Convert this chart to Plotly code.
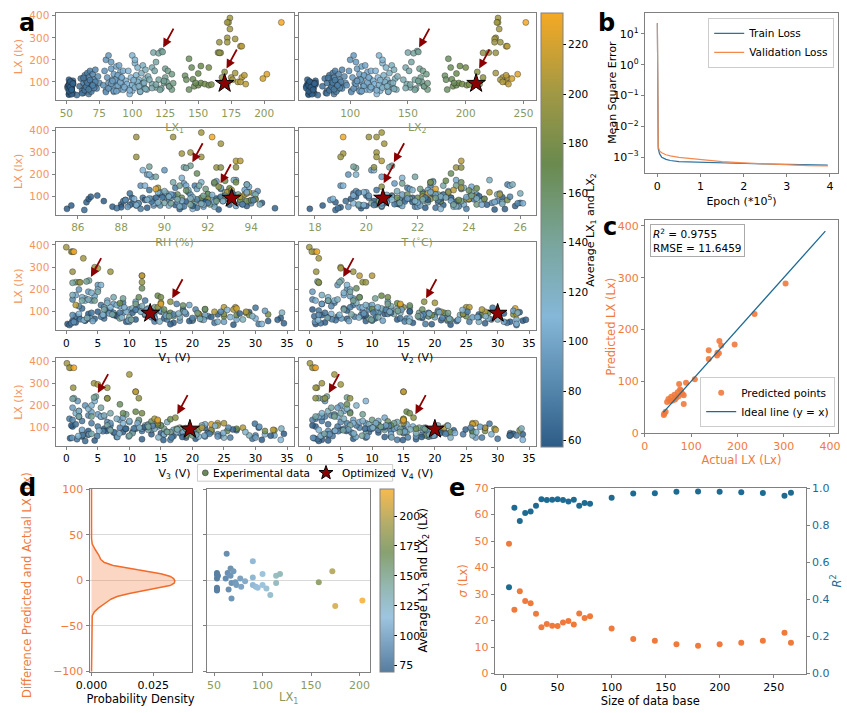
import numpy as np
import plotly.graph_objects as go

# ---------------- Panel a data (experimental records) ----------------
lx1 = [52,53,54,52,53,55,51,54,53,52,55,54,53,52,54,53,55,52,53,54,51,55,
       58,60,61,62,63,64,64,65,66,66,67,67,68,68,69,69,70,70,71,72,72,73,74,75,63,67,
       78,79,80,80,81,82,82,83,84,85,86,86,87,88,88,89,90,90,91,92,92,93,94,95,84,89,
       96,97,98,99,100,100,101,102,103,104,104,105,106,107,108,108,109,110,110,111,112,98,102,106,
       122,116,120,123,118,115,117,125,127,130,125,120,128,130,122,115,118,124,126,113,
       143,145,152,158,140,141,146,150,143,147,150,152,155,158,148,160,
       174,173,172,174,172,178,166,172,182,183,165,167,166,170,168,172,175,178,180,183,185,186,176,182,
       213,202,199,
       53,54,52,55,53,54,52,53,55,54,62,64,65,66,68,69,70,71,72,63,67,70,
       80,82,84,86,87,89,91,93,94,85,88,92,98,100,102,104,106,108,110,101,105,109,115,118,121,124,128,131]
lx2 = [64,66,68,63,65,70,62,67,66,64,69,68,65,63,67,66,70,64,65,68,62,69,
       72,76,78,80,80,82,83,84,85,85,86,86,87,88,88,89,90,90,91,92,93,93,95,96,79,86,
       97,99,100,101,102,103,104,105,106,107,108,109,110,110,111,112,113,114,115,116,117,118,119,120,105,112,
       121,122,123,124,125,126,127,128,129,130,131,132,133,134,135,136,137,138,139,140,141,123,128,133,
       158,150,155,159,153,148,151,160,163,166,161,156,164,167,157,149,152,160,162,146,
       185,187,195,200,182,183,188,192,184,189,192,194,197,201,190,203,
       228,228,227,229,226,225,230,225,235,236,220,226,215,210,215,212,232,226,235,236,235,237,230,232,
       252,245,240,
       66,68,64,70,65,67,64,66,69,68,80,82,84,85,87,88,90,91,92,81,86,89,
       101,103,105,108,109,112,115,117,118,106,110,116,123,125,128,130,133,135,138,126,132,137,148,152,156,159,164,167]
rh = [85.5,85.7,86.4,86.5,86.6,86.9,87.2,87.6,88.0,88.2,88.5,88.8,89.2,89.8,90.5,91.0,91.8,92.5,93.0,93.8,94.5,95.1,
      86.3,88.1,88.4,88.7,89.0,89.3,89.6,89.9,90.2,90.5,90.8,91.1,91.4,91.7,92.0,92.3,92.6,92.9,93.2,93.5,93.8,94.0,94.3,90.0,91.5,88.9,
      88.2,88.9,89.2,89.5,89.8,90.0,90.3,90.6,90.9,91.2,91.5,91.8,92.1,92.4,92.7,93.0,93.3,93.6,93.9,94.2,90.1,91.0,91.9,92.8,89.4,93.7,
      88.6,89.1,89.5,89.7,89.0,90.2,90.5,90.8,91.1,91.4,91.7,92.0,92.3,92.6,92.9,93.2,93.5,93.8,94.1,94.4,90.0,91.3,89.3,92.2,
      91.2,90.9,91.0,89.3,89.6,90.4,91.6,92.3,90.7,91.9,92.8,93.4,93.9,92.1,90.3,89.4,91.4,92.6,93.6,94.2,
      91.5,92.3,92.8,93.3,91.0,90.6,92.0,93.0,89.8,93.8,94.0,91.7,92.5,93.5,90.8,94.2,
      91.7,90.4,88.7,92.6,91.2,90.8,88.7,91.7,93.3,93.5,93.3,92.4,92.6,92.5,93.0,92.0,93.9,89.7,93.5,92.9,93.1,91.3,93.7,92.7,
      92.2,89.6,93.8,
      88.0,88.5,89.1,89.6,90.2,90.7,91.3,91.9,92.4,93.0,87.8,88.4,89.4,89.9,90.4,90.9,91.5,92.0,92.6,93.1,93.6,94.1,
      88.3,88.8,89.3,89.8,90.3,90.8,91.3,91.8,92.3,92.8,93.3,93.8,88.7,89.2,89.7,90.2,90.7,91.2,91.7,92.2,92.7,93.2,
      90.0,90.6,91.2,91.8,92.4,93.0]
temp = [17.8,18.3,18.8,19.4,19.6,20.0,20.3,20.6,21.3,21.5,21.8,22.0,22.3,22.6,23.0,23.5,24.0,25.0,25.3,25.8,26.0,19.8,
        18.8,19.2,19.5,19.8,20.1,20.4,20.7,21.0,21.3,21.6,21.9,22.2,22.5,22.8,23.1,23.4,23.7,24.0,24.3,25.1,25.5,25.9,19.6,20.9,22.7,23.9,
        18.6,19.0,19.3,19.7,20.0,20.2,20.5,20.8,21.1,21.4,21.7,22.0,22.3,22.6,22.9,23.2,23.5,23.8,24.1,24.6,25.2,25.6,26.1,19.5,20.6,22.4,
        18.7,19.1,19.5,19.9,20.3,20.6,21.0,21.4,21.8,22.2,22.6,23.0,23.4,23.8,24.2,24.8,25.3,25.7,26.0,19.7,21.2,22.9,19.6,24.5,
        21.0,20.9,19.6,19.5,21.9,22.5,23.0,21.4,23.5,22.1,24.1,22.8,23.7,24.3,20.2,21.7,22.4,23.3,24.0,25.1,
        23.3,23.7,23.1,22.5,24.0,21.6,22.2,24.3,20.4,22.9,23.6,21.2,24.6,25.5,22.0,23.9,
        20.6,20.4,20.1,20.7,20.4,19.1,19.0,20.4,20.6,23.7,20.3,23.5,23.7,20.6,23.2,22.5,24.8,23.7,24.2,22.6,23.4,24.0,25.2,22.2,
        19.1,22.7,22.4,
        19.0,21.2,22.4,23.3,24.4,25.4,20.0,21.8,22.9,24.7,18.9,20.3,21.5,22.3,23.0,23.6,24.2,24.9,25.6,19.7,21.1,22.8,
        19.3,20.6,21.6,22.1,22.7,23.3,23.9,24.5,25.0,20.1,21.4,22.5,19.9,21.0,22.0,22.9,23.5,24.3,25.3,20.8,21.9,23.1,
        21.3,22.2,23.4,24.1,20.5,22.7]
v1 = [0.2,1.0,2.0,3.5,5.0,6.5,8.0,9.5,11.0,12.5,14.0,15.5,17.0,18.5,20.0,22.0,24.0,26.5,29.0,32.0,34.0,34.5,
      0.5,1.5,2.5,3.0,4.0,5.5,6.0,7.0,8.0,9.0,10.0,11.5,12.5,13.5,15.0,16.0,17.5,19.0,20.5,22.5,1.0,3.5,2.0,7.5,23.5,30.5,
      1.0,4.0,2.0,18.0,6.0,5.0,9.0,14.0,3.0,10.0,7.5,25.0,12.0,4.5,21.0,8.5,1.5,27.0,11.0,16.0,13.0,6.5,30.0,15.0,3.5,19.5,
      2.0,3.0,14.0,7.0,5.5,20.0,9.5,4.0,8.0,16.0,2.5,11.0,24.0,6.5,13.0,1.0,18.0,3.5,10.5,28.0,12.0,31.0,5.0,22.0,
      3.6,1.5,1.0,3.2,5.0,7.5,2.5,9.0,4.5,11.0,14.0,6.0,17.0,20.0,8.5,12.5,10.0,15.5,18.5,22.0,
      12.0,11.5,14.5,15.0,18.5,15.5,22.0,8.5,21.5,25.0,27.0,28.5,21.0,29.0,16.5,32.0,
      0.0,0.8,1.0,2.7,4.5,5.0,1.0,7.0,12.0,12.0,12.0,2.0,2.2,16.5,14.5,25.0,26.8,15.0,28.5,25.0,1.5,21.0,26.5,23.5,
      1.2,15.0,27.0,
      1.5,4.5,7.5,10.5,13.5,16.5,19.5,23.0,27.5,33.5,0.8,3.0,5.5,8.5,11.0,14.0,17.0,20.0,24.5,30.0,2.2,6.0,
      1.2,3.8,6.8,9.8,12.8,15.8,18.8,21.8,26.0,31.5,4.2,9.2,2.8,5.8,8.8,11.8,14.8,17.8,21.2,25.5,29.5,34.2,
      3.3,7.3,10.3,13.3,16.3,20.8]
v2 = [1.0,34.0,3.0,12.0,25.0,6.0,8.5,32.0,14.0,2.0,19.0,10.5,16.5,0.5,21.0,4.5,27.0,22.5,33.5,9.0,18.0,28.0,
      33.0,0.8,5.5,10.0,2.5,7.0,14.5,1.5,20.0,4.0,25.5,6.5,3.0,17.5,8.5,29.0,2.0,12.5,9.5,22.0,0.5,15.5,3.5,11.0,31.5,18.5,
      1.5,3.0,6.0,22.0,8.0,4.5,11.0,26.0,7.0,13.0,2.0,31.0,16.0,6.5,19.0,9.5,5.5,33.0,12.5,18.5,14.0,1.0,28.5,20.5,0.5,10.0,
      3.5,4.0,16.0,8.5,6.0,22.5,10.5,5.5,9.0,18.0,3.0,12.0,27.0,7.5,14.5,2.0,20.0,4.5,11.5,30.0,13.0,33.0,6.5,24.0,
      5.1,4.8,1.5,1.3,6.5,8.0,3.0,10.5,7.0,12.5,16.0,5.5,19.0,22.5,9.5,13.5,11.0,17.5,20.5,25.0,
      7.5,8.0,11.5,12.5,16.0,18.0,10.0,14.0,22.0,25.0,27.5,28.5,24.5,19.5,21.5,32.5,
      0.0,0.8,0.4,1.5,5.0,5.0,1.1,7.0,10.0,8.0,8.5,9.0,1.5,18.3,15.0,24.5,25.0,20.0,28.0,25.5,14.5,33.0,27.5,21.0,
      1.2,14.5,32.8,
      2.5,6.0,9.0,13.0,16.0,19.5,23.5,27.0,31.0,34.5,1.8,4.2,7.2,10.2,12.2,15.2,18.2,21.2,25.2,29.2,3.6,8.2,
      0.9,5.1,8.7,11.7,14.7,17.7,20.7,23.7,26.8,32.5,6.3,10.9,1.4,4.8,7.9,12.8,15.9,19.1,22.3,24.4,28.1,33.2,
      2.9,6.7,9.9,14.1,17.3,22.1]
v3 = [31.0,2.5,15.0,6.0,30.5,1.0,9.0,19.0,24.5,3.5,11.0,13.5,20.5,0.8,17.0,7.5,27.0,4.5,22.0,8.0,34.5,12.0,
      3.0,10.5,1.5,22.0,6.0,2.5,15.5,5.0,12.0,0.5,26.0,4.0,2.0,18.0,8.5,30.0,1.0,13.5,7.0,20.5,3.5,24.0,6.5,9.5,29.5,16.5,
      2.5,5.5,3.0,24.0,7.0,1.8,12.0,20.0,5.0,15.0,8.5,30.0,13.0,4.0,18.5,10.0,2.0,33.0,9.0,17.0,22.0,6.0,31.5,14.5,1.0,11.5,
      2.5,5.5,15.5,9.0,4.5,21.0,11.0,3.5,10.0,17.5,1.5,12.5,25.0,8.0,14.0,2.0,19.5,6.0,13.0,29.0,16.0,34.0,4.0,23.0,
      4.7,1.2,1.0,4.4,5.5,7.0,2.0,9.5,4.0,11.5,14.5,6.5,16.5,20.0,8.0,13.0,10.5,15.5,18.0,21.5,
      8.5,9.0,11.0,12.0,13.5,15.0,14.5,16.5,19.0,23.0,25.5,27.0,21.0,31.5,17.5,33.0,
      0.1,0.7,0.5,10.0,4.4,5.0,1.1,6.5,11.0,11.0,11.5,6.5,6.5,17.3,14.5,23.0,25.0,14.0,28.0,24.0,14.5,32.8,24.0,21.5,
      1.2,14.5,23.0,
      0.6,3.4,6.4,9.4,12.4,15.4,18.4,22.4,26.4,32.4,1.7,4.9,7.7,10.7,13.7,16.7,19.7,22.7,25.7,29.9,2.6,5.8,
      0.9,3.6,6.9,9.9,12.9,15.9,18.9,21.9,24.9,30.6,8.1,11.3,1.9,5.2,8.4,11.6,14.6,17.6,20.6,23.6,28.4,34.1,
      4.0,7.0,10.0,13.0,16.0,19.0]
v4 = [2.0,13.0,32.0,5.0,18.5,1.0,26.0,9.0,20.0,4.0,15.0,34.0,7.0,0.5,19.5,11.0,23.0,3.0,28.0,12.0,32.5,17.0,
      1.5,9.5,3.0,19.0,5.5,2.0,24.5,4.5,13.0,1.0,27.5,6.0,2.5,15.0,8.0,33.0,0.5,11.0,7.5,21.5,3.5,18.0,5.0,10.0,30.0,14.0,
      3.0,2.0,5.0,17.0,9.0,2.5,13.5,22.0,4.0,10.5,7.0,26.5,14.0,6.5,20.0,8.0,5.5,32.0,12.0,18.0,15.5,1.5,29.0,16.5,4.5,11.0,
      1.5,4.5,13.0,7.0,9.0,19.0,10.0,6.0,8.5,15.0,2.0,11.0,22.5,5.5,12.0,3.0,17.0,4.0,9.5,26.0,14.0,34.0,7.5,20.5,
      2.8,1.5,2.2,6.0,3.5,5.0,1.0,8.5,4.0,10.0,13.5,6.5,15.5,19.0,7.0,12.0,9.0,14.5,17.5,20.5,
      6.0,6.5,15.5,16.0,12.5,13.0,11.0,15.0,18.5,22.5,26.0,29.5,21.0,28.0,17.0,33.5,
      0.1,0.8,0.5,4.0,2.0,5.0,1.2,1.0,15.0,15.0,1.0,6.5,2.5,16.6,15.0,20.5,26.0,15.0,28.0,26.5,15.0,29.7,22.0,21.5,
      1.0,15.0,26.0,
      0.8,2.9,5.9,8.9,11.9,14.9,17.9,20.9,24.9,31.9,1.3,3.7,6.7,9.7,12.7,15.7,18.7,21.7,25.7,28.7,2.1,4.6,
      0.6,3.2,6.2,9.2,12.2,15.2,18.2,19.8,23.2,27.2,7.4,10.6,1.8,4.1,7.1,10.1,13.1,16.1,19.1,22.1,26.6,33.8,
      2.4,5.4,8.4,11.4,14.4,18.4]
lx = [45,60,75,90,100,105,80,55,65,85,95,70,50,110,62,78,88,42,98,58,72,48,
      40,80,115,60,95,130,70,105,85,140,55,120,150,75,100,65,135,90,110,80,155,70,125,95,50,45,
      85,150,200,60,120,220,95,75,160,110,135,55,100,170,80,125,175,65,145,90,115,150,70,105,190,130,
      90,150,70,120,220,60,100,185,130,80,165,110,55,140,95,175,75,155,115,65,125,45,200,85,
      240,233,230,236,190,165,150,160,150,135,120,110,80,65,70,90,75,95,100,110,
      205,165,172,165,128,110,112,138,65,80,85,95,90,85,95,88,
      390,370,370,340,300,295,280,280,262,262,233,232,232,145,120,90,120,140,100,120,130,90,110,100,
      370,135,115,
      52,68,85,95,102,44,58,76,92,64,48,62,78,96,108,56,88,72,100,118,66,84,
      54,70,92,60,110,82,98,64,76,104,58,120,62,86,74,100,56,92,68,108,80,96,
      72,88,64,104,80,94]
arrow_idx = [98, 147]   # the two highlighted experimental records

# optimized point
opt_x = [170, 209, 93.1, 20.65, 13.3, 30.0, 19.6, 20.0]
opt_lx = 93

# ---------------- Panel b ----------------
epoch = [0, 0.002, 0.005, 0.01, 0.02, 0.05, 0.1, 0.2, 0.3, 0.5, 0.75, 1.0, 1.5, 2.0, 2.5, 3.0, 3.5, 3.95]
train_loss = [22, 0.5, 0.02, 0.003, 0.0019, 0.0013, 0.001, 0.00085, 0.00078, 0.00072, 0.0007, 0.00068,
              0.00065, 0.00062, 0.0006, 0.00058, 0.00056, 0.00055]
val_loss = [22, 1.0, 0.05, 0.004, 0.0022, 0.0016, 0.0014, 0.0012, 0.0011, 0.00098, 0.0009, 0.00082,
            0.00072, 0.00065, 0.0006, 0.00056, 0.00053, 0.00052]
b_ticks = [10, 1, 0.1, 0.01, 0.001]
b_ticktext = ["10<sup>1</sup>", "10<sup>0</sup>", "10<sup>−1</sup>", "10<sup>−2</sup>", "10<sup>−3</sup>"]

# ---------------- Panel c ----------------
c_actual = [304,237,194,161,165,160,156,157,138,138,108,89,74,76,84,84,71,64,57,60,68,51,48,42,45,41,78,81,73,65,55]
c_pred = [289,230,171,178,169,154,150,155,160,143,104,97,95,84,73,56,79,74,70,63,68,66,60,38,41,35,82,76,71,65,62]
ideal = [40, 390]

# ---------------- Panel d ----------------
d_lx1 = [53,53,53,53,53,53,54,62,63,64,65,67,67,68,68,70,72,73,77,78,82,90,90,90,93,95,100,100,104,108,114,114,118,158,172,175,203]
d_resid = [8,6,2,-8,-10,-11,5,2,29,8,-10,13,5,-20,-3,10,-2,-5,2,-7,-1,21,3,-5,-7,-8,7,-5,-9,-16,5,-3,7,-2,10,-28,-22]
d_avg = [70,71,70,72,70,71,71,80,81,82,82,84,85,86,85,88,89,90,94,95,99,108,107,108,110,112,118,117,121,125,131,132,135,176,196,210,222]

# ---------------- Panel e ----------------
db_size = [5,10,15,20,25,30,35,40,45,50,55,60,65,70,75,80,100,120,140,160,180,200,220,240,260,266]
sigma = [49,24.1,31.1,27.4,26.5,22.6,17.5,18.7,18.1,18.0,19.3,19.8,18.5,22.7,21.0,21.6,17.0,13.1,12.4,11.1,10.5,11.1,11.6,12.4,15.4,11.6]
r2 = [0.465,0.894,0.822,0.866,0.873,0.905,0.94,0.935,0.937,0.94,0.935,0.928,0.937,0.905,0.92,0.915,0.948,0.97,0.972,0.98,0.982,0.98,0.978,0.973,0.958,0.975]

n = len(lx)
assert all(len(a) == n for a in [lx1, lx2, rh, temp, v1, v2, v3, v4]), [len(a) for a in [lx1, lx2, rh, temp, v1, v2, v3, v4, lx]]
assert len(d_lx1) == len(d_resid) == len(d_avg)
assert len(c_actual) == len(c_pred)
assert len(db_size) == len(sigma) == len(r2)

# ---------------- geometry helpers ----------------
W, H = 847, 713
def xd(l, r): return [l / W, r / W]
def yd(t, b): return [1 - b / H, 1 - t / H]
def px(x): return x / W
def py(y): return 1 - y / H

FONT = "DejaVu Sans"
ORANGE_A = "#f5955c"
ORANGE = "#f07a3c"
OLIVE = "#8a9a5b"
BLUE = "#1d6a93"
GRAY = "#808080"

def ax_style(**kw):
    d = dict(showline=True, linecolor=GRAY, linewidth=1, mirror=True, ticks="outside",
             ticklen=3, tickcolor=GRAY, showgrid=False, zeroline=False,
             tickfont=dict(size=10.5, color="black", family=FONT))
    d.update(kw)
    return d

cs = [[0.0, "#2d5d87"], [0.30, "#85b7d8"], [0.47, "#79a59c"], [0.653, "#6a8a4e"], [0.813, "#a09845"], [1.0, "#f5a924"]]
def lighten(h, a=0.8):
    r, g, b = int(h[1:3], 16), int(h[3:5], 16), int(h[5:7], 16)
    return "rgb(%d,%d,%d)" % tuple(round(a * c + (1 - a) * 255) for c in (r, g, b))
cs_light = [[p, lighten(c)] for p, c in cs]

avg = [(a + b) / 2 for a, b in zip(lx1, lx2)]

fig = go.Figure()
layout = {}
annotations = []
shapes = []

# ---------------- Panel a ----------------
xcols = [(42.3, 285), (290, 532)]
rows = [(7.3, 95.7), (124, 212.7), (240.7, 330), (359, 448)]
xs = [lx1, lx2, rh, temp, v1, v2, v3, v4]
xranges = [[41.8, 222.3], [55.3, 260.8], [84.97, 95.96], [17.36, 26.61],
           [-1.71, 36.04], [-1.72, 36.1], [-1.71, 36.04], [-1.72, 36.1]]
xtitles = ["LX<sub>1</sub>", "LX<sub>2</sub>", "RH (%)", "T (<sup>∘</sup>C)",
           "V<sub>1</sub> (V)", "V<sub>2</sub> (V)", "V<sub>3</sub> (V)", "V<sub>4</sub> (V)"]
xticks = [[50, 75, 100, 125, 150, 175, 200], [100, 150, 200, 250], [86, 88, 90, 92, 94], [18, 20, 22, 24, 26]] + [list(range(0, 36, 5))] * 4

for k in range(8):
    i = k + 1
    col, row = k % 2, k // 2
    xn = "x" if i == 1 else "x%d" % i
    yn = "y" if i == 1 else "y%d" % i
    tcol = OLIVE if k < 4 else "black"
    fig.add_trace(go.Scatter(
        x=xs[k], y=lx, mode="markers", xaxis=xn, yaxis=yn, showlegend=False, hoverinfo="skip",
        marker=dict(color=avg, coloraxis="coloraxis", size=6, opacity=0.85,
                    line=dict(width=0.6, color="rgba(25,25,25,0.75)"))))
    fig.add_trace(go.Scatter(
        x=[opt_x[k]], y=[opt_lx], mode="markers", xaxis=xn, yaxis=yn, showlegend=False, hoverinfo="skip",
        marker=dict(symbol="star", size=14, color="#8b0000", line=dict(width=1, color="black"))))
    layout["xaxis" if i == 1 else "xaxis%d" % i] = ax_style(
        domain=xd(*xcols[col]), anchor=yn, range=xranges[k], tickvals=xticks[k],
        tickfont=dict(size=10.5, color=tcol, family=FONT),
        title=dict(text=xtitles[k], font=dict(size=11, color=tcol, family=FONT), standoff=5))
    ykw = dict(domain=yd(*rows[row]), anchor=xn, range=[18, 412], tickvals=[100, 200, 300, 400],
               tickfont=dict(size=10.5, color=ORANGE_A, family=FONT))
    if col == 0:
        ykw["title"] = dict(text="LX (lx)", font=dict(size=11, color=ORANGE_A, family=FONT), standoff=4)
    else:
        ykw["showticklabels"] = False
    layout["yaxis" if i == 1 else "yaxis%d" % i] = ax_style(**ykw)
    for j in arrow_idx:
        annotations.append(dict(xref=xn, yref=yn, x=xs[k][j], y=lx[j], ax=13, ay=-24, text="",
                                showarrow=True, arrowhead=2, arrowsize=1, arrowwidth=1.8,
                                arrowcolor="#8b0000", standoff=4))

layout["coloraxis"] = dict(
    colorscale=cs, cmin=57.5, cmax=232.8,
    colorbar=dict(x=537 / W, xanchor="left", y=1 - 7 / H, yanchor="top", len=442 / H, lenmode="fraction",
                  thickness=22, xpad=0, ypad=0, outlinecolor=GRAY, outlinewidth=1,
                  tickvals=list(range(60, 221, 20)), ticks="outside", ticklen=3, tickcolor="black",
                  tickfont=dict(size=10.5, color="black", family=FONT)))
annotations.append(dict(xref="paper", yref="paper", x=px(588), y=py(228), textangle=-90, showarrow=False,
                        xanchor="center", yanchor="middle",
                        text="Average LX<sub>1</sub> and LX<sub>2</sub>",
                        font=dict(size=11, color="black", family=FONT)))

# legend box for panel a, drawn with shapes in pixel-derived paper coordinates
shapes.append(dict(type="rect", xref="paper", yref="paper", x0=px(187), x1=px(386), y0=py(484), y1=py(467),
                   line=dict(color="#cccccc", width=1), fillcolor="white", layer="below"))
shapes.append(dict(type="circle", xref="paper", yref="paper", x0=px(192), x1=px(198), y0=py(478.5), y1=py(472.5),
                   line=dict(color="#333333", width=0.6), fillcolor="#6b8a5a"))
star_pts = []
for s in range(10):
    r = 7.5 if s % 2 == 0 else 3.0
    ang = np.pi / 2 + s * np.pi / 5
    star_pts.append((318 + r * np.cos(ang), 475.5 - r * np.sin(ang)))
star_path = "M " + " L ".join("%.5f,%.5f" % (px(a), py(b)) for a, b in star_pts) + " Z"
shapes.append(dict(type="path", xref="paper", yref="paper", path=star_path, fillcolor="#8b0000",
                   line=dict(color="black", width=1)))
annotations.append(dict(xref="paper", yref="paper", x=px(201), y=py(475.5), xanchor="left", yanchor="middle",
                        text="Experimental data", showarrow=False, font=dict(size=10.5, family=FONT, color="black")))
annotations.append(dict(xref="paper", yref="paper", x=px(332), y=py(475.5), xanchor="left", yanchor="middle",
                        text="Optimized", showarrow=False, font=dict(size=10.5, family=FONT, color="black")))

# ---------------- Panel b ----------------
fig.add_trace(go.Scatter(x=epoch, y=train_loss, mode="lines", name="Train Loss", line=dict(color="#2a72a0", width=1.2),
                         xaxis="x9", yaxis="y9", legend="legend2"))
fig.add_trace(go.Scatter(x=epoch, y=val_loss, mode="lines", name="Validation Loss", line=dict(color="#f4894f", width=1.2),
                         xaxis="x9", yaxis="y9", legend="legend2"))
layout["xaxis9"] = ax_style(domain=xd(643, 840), anchor="y9", range=[-0.29, 4.19], tickvals=[0, 1, 2, 3, 4],
                            tickfont=dict(size=11, color="black", family=FONT),
                            title=dict(text="Epoch (*10<sup>5</sup>)", font=dict(size=11, family=FONT, color="black"), standoff=2))
layout["yaxis9"] = ax_style(domain=yd(7, 170), anchor="x9", type="log", range=[-3.51, 1.68],
                            tickvals=b_ticks, ticktext=b_ticktext,
                            tickfont=dict(size=11, color="black", family=FONT))
annotations.append(dict(xref="paper", yref="paper", x=px(610), y=py(88), textangle=-90, showarrow=False,
                        xanchor="center", yanchor="middle", text="Mean Square Error",
                        font=dict(size=11, color="black", family=FONT)))
layout["legend2"] = dict(x=836 / W, y=1 - 12 / H, xanchor="right", yanchor="top", bordercolor="#cccccc",
                         borderwidth=1, bgcolor="white", font=dict(size=10.5, family=FONT, color="black"),
                         tracegroupgap=0, itemwidth=30)

# ---------------- Panel c ----------------
fig.add_trace(go.Scatter(x=c_actual, y=c_pred, mode="markers", name="Predicted points",
                         marker=dict(color=ORANGE, size=6, opacity=0.9), xaxis="x10", yaxis="y10", legend="legend3"))
fig.add_trace(go.Scatter(x=ideal, y=ideal, mode="lines", name="Ideal line (y = x)", line=dict(color=BLUE, width=1.3),
                         xaxis="x10", yaxis="y10", legend="legend3"))
layout["xaxis10"] = ax_style(domain=xd(643, 840), anchor="y10", range=[0, 417.6], tickvals=[0, 100, 200, 300, 400],
                             tickfont=dict(size=11, color=ORANGE, family=FONT),
                             title=dict(text="Actual LX (Lx)", font=dict(size=11.5, family=FONT, color=ORANGE), standoff=2))
layout["yaxis10"] = ax_style(domain=yd(218, 435), anchor="x10", range=[0, 411.4], tickvals=[0, 100, 200, 300, 400],
                             tickfont=dict(size=11, color=ORANGE, family=FONT))
annotations.append(dict(xref="paper", yref="paper", x=px(609), y=py(326), textangle=-90, showarrow=False,
                        xanchor="center", yanchor="middle", text="Predicted LX (Lx)",
                        font=dict(size=11.5, color=ORANGE, family=FONT)))
layout["legend3"] = dict(x=837 / W, y=1 - 429 / H, xanchor="right", yanchor="bottom", bordercolor="#cccccc",
                         borderwidth=1, bgcolor="white", font=dict(size=10.5, family=FONT, color="black"), itemwidth=30)
annotations.append(dict(xref="paper", yref="paper", x=648 / W, y=1 - 222 / H, xanchor="left", yanchor="top",
                        align="left", showarrow=False, bordercolor="#aaaaaa", borderwidth=1, borderpad=2,
                        bgcolor="white", font=dict(size=10.5, family=FONT, color="black"),
                        text="<i>R</i><sup>2</sup> = 0.9755<br>RMSE = 11.6459"))

# ---------------- Panel d ----------------
res = np.array(d_resid, dtype=float)
bw = res.std(ddof=1) * len(res) ** (-1 / 5)
ygrid = np.linspace(-100, 100, 801)
dens = np.exp(-0.5 * ((ygrid[:, None] - res[None, :]) / bw) ** 2).sum(1) / (len(res) * bw * np.sqrt(2 * np.pi))
fig.add_trace(go.Scatter(x=dens, y=ygrid, mode="lines", fill="tozerox", fillcolor="rgba(244,137,79,0.35)",
                         line=dict(color="#f26b2a", width=1.5), xaxis="x11", yaxis="y11", showlegend=False,
                         hoverinfo="skip"))
layout["xaxis11"] = ax_style(domain=xd(77, 181), anchor="y11", range=[-0.0008, 0.0405], tickvals=[0, 0.025],
                             ticktext=["0.000", "0.025"], tickfont=dict(size=11, color="black", family=FONT),
                             title=dict(text="Probability Density", font=dict(size=11.5, family=FONT, color="black"), standoff=2))
layout["yaxis11"] = ax_style(domain=yd(492, 678), anchor="x11", range=[-100, 100], tickvals=[-100, -50, 0, 50, 100],
                             showgrid=True, gridcolor="#d9d9d9", gridwidth=1,
                             tickfont=dict(size=11, color=ORANGE, family=FONT))
annotations.append(dict(xref="paper", yref="paper", x=px(14), y=py(590), textangle=-90, showarrow=False,
                        xanchor="center", yanchor="middle", text="Difference Predicted and Actual LX (Lx)",
                        font=dict(size=11.5, color=ORANGE, family=FONT)))
fig.add_trace(go.Scatter(x=d_lx1, y=d_resid, mode="markers", xaxis="x12", yaxis="y12", showlegend=False,
                         hoverinfo="skip", marker=dict(color=d_avg, coloraxis="coloraxis2", size=6)))
layout["xaxis12"] = ax_style(domain=xd(197, 363), anchor="y12", range=[43, 211], tickvals=[50, 100, 150, 200],
                             tickfont=dict(size=11, color=OLIVE, family=FONT),
                             title=dict(text="LX<sub>1</sub>", font=dict(size=11.5, family=FONT, color=OLIVE), standoff=2))
layout["yaxis12"] = ax_style(domain=yd(492, 678), anchor="x12", range=[-100, 100], tickvals=[-100, -50, 0, 50, 100],
                             showgrid=True, gridcolor="#d9d9d9", gridwidth=1, showticklabels=False)
layout["coloraxis2"] = dict(
    colorscale=cs_light, cmin=69.6, cmax=222.6,
    colorbar=dict(x=373 / W, xanchor="left", y=1 - 492 / H, yanchor="top", len=186 / H, lenmode="fraction",
                  thickness=14, xpad=0, ypad=0, outlinecolor=GRAY, outlinewidth=1,
                  tickvals=[75, 100, 125, 150, 175, 200], ticks="outside", ticklen=3, tickcolor="black",
                  tickfont=dict(size=11, color="black", family=FONT)))
annotations.append(dict(xref="paper", yref="paper", x=px(417), y=py(585), textangle=-90, showarrow=False,
                        xanchor="center", yanchor="middle",
                        text="Average LX<sub>1</sub> and LX<sub>2</sub> (Lx)",
                        font=dict(size=11.5, color="black", family=FONT)))

# ---------------- Panel e ----------------
fig.add_trace(go.Scatter(x=db_size, y=sigma, mode="markers", marker=dict(color=ORANGE, size=6),
                         xaxis="x13", yaxis="y13", showlegend=False, hoverinfo="skip"))
fig.add_trace(go.Scatter(x=db_size, y=r2, mode="markers", marker=dict(color=BLUE, size=6),
                         xaxis="x13", yaxis="y14", showlegend=False, hoverinfo="skip"))
layout["xaxis13"] = ax_style(domain=xd(490, 807), anchor="y13", range=[-8.2, 279.7], tickvals=[0, 50, 100, 150, 200, 250],
                             tickfont=dict(size=11, color="black", family=FONT),
                             title=dict(text="Size of data base", font=dict(size=11.5, family=FONT, color="black"), standoff=2))
layout["yaxis13"] = ax_style(domain=yd(491, 680), anchor="x13", range=[0, 70], tickvals=list(range(0, 71, 10)),
                             tickfont=dict(size=11, color=ORANGE, family=FONT),
                             title=dict(text="<i>σ</i> (Lx)", font=dict(size=11.5, family=FONT, color=ORANGE), standoff=4))
layout["yaxis14"] = ax_style(overlaying="y13", side="right", anchor="x13", range=[0, 1],
                             tickvals=[0, 0.2, 0.4, 0.6, 0.8, 1.0], ticktext=["0.0", "0.2", "0.4", "0.6", "0.8", "1.0"],
                             tickfont=dict(size=11, color=BLUE, family=FONT), mirror=False,
                             title=dict(text="<i>R</i><sup>2</sup>", font=dict(size=11.5, family=FONT, color=BLUE), standoff=4))

# ---------------- panel letters ----------------
for letter, lx_, ly_ in [("a", 13, 17), ("b", 604, 17), ("c", 607, 225), ("d", 14, 491), ("e", 452, 491)]:
    annotations.append(dict(xref="paper", yref="paper", x=px(lx_), y=py(ly_), xanchor="center", yanchor="middle",
                            text="<b>%s</b>" % letter, showarrow=False,
                            font=dict(size=24, family=FONT, color="black")))

fig.update_layout(width=W, height=H, margin=dict(l=0, r=0, t=0, b=0), paper_bgcolor="white",
                  plot_bgcolor="white", font=dict(family=FONT, size=10.5, color="black"),
                  annotations=annotations, shapes=shapes, **layout)
fig.write_html("out.html")
